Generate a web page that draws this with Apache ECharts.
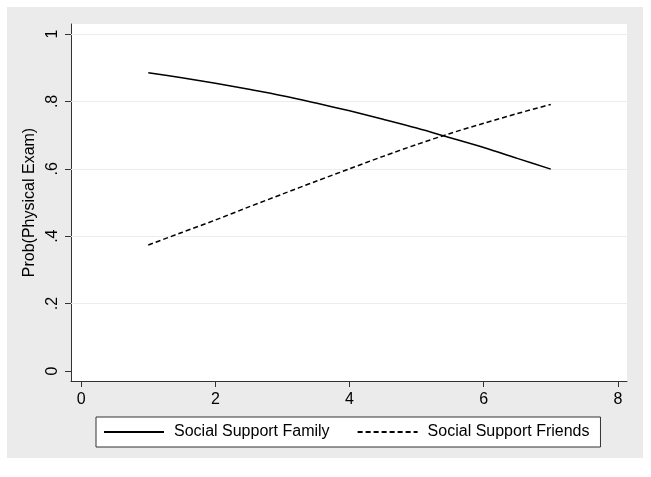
<!DOCTYPE html>
<html>
<head>
<meta charset="utf-8">
<script src="https://cdn.jsdelivr.net/npm/echarts@6/dist/echarts.min.js"></script>
<style>
  html, body { margin: 0; padding: 0; background: #ffffff; width: 651px; height: 477px; overflow: hidden; }
  #chart { position: absolute; left: 7px; top: 7px; width: 636px; height: 451px; }
</style>
</head>
<body>
<div id="chart"></div>
<script>
// Data
const xValues = [1, 1.5, 2, 2.5, 3, 3.5, 4, 4.5, 5, 5.5, 6, 6.5, 7];
const familyProb = [0.885, 0.870, 0.854, 0.836, 0.817, 0.795, 0.772, 0.747, 0.721, 0.692, 0.663, 0.631, 0.599];
const friendsProb = [0.374, 0.411, 0.448, 0.487, 0.525, 0.563, 0.600, 0.637, 0.672, 0.705, 0.735, 0.764, 0.791];
const seriesNames = ['Social Support Family', 'Social Support Friends'];
const xTicks = [0, 2, 4, 6, 8];
const yTicks = [0, 0.2, 0.4, 0.6, 0.8, 1];
const yGridTicks = [0.2, 0.4, 0.6, 0.8, 1];
const yTitle = 'Prob(Physical Exam)';

const fmt = v => {
  const r = Math.round(v * 10) / 10;
  return String(r).replace(/^0\./, '.');
};

const chart = echarts.init(document.getElementById('chart'), null, { renderer: 'canvas' });
const font = 'Liberation Sans, Arial, sans-serif';

chart.setOption({
  backgroundColor: '#ebebeb',
  animation: false,
  textStyle: { fontFamily: font },
  grid: {
    left: 64, top: 17, width: 556, height: 357,
    show: true, backgroundColor: '#ffffff', borderWidth: 0,
    containLabel: false
  },
  xAxis: {
    type: 'value',
    min: -0.152, max: 8.136,
    axisLine: { show: true, onZero: false, lineStyle: { color: '#333333', width: 1 } },
    axisTick: { show: true, length: 6, customValues: xTicks, lineStyle: { color: '#333333' } },
    axisLabel: { customValues: xTicks, color: '#000', fontSize: 16, margin: 11, fontFamily: font, formatter: v => String(v) },
    splitLine: { show: false }
  },
  yAxis: {
    type: 'value',
    min: -0.0297, max: 1.0297,
    name: yTitle,
    nameLocation: 'middle',
    nameGap: 25,
    nameRotate: 90,
    nameTextStyle: { color: '#000', fontSize: 16, fontFamily: font },
    axisLine: { show: true, onZero: false, lineStyle: { color: '#333333', width: 1 } },
    axisTick: { show: true, length: 6, customValues: yTicks, lineStyle: { color: '#333333' } },
    axisLabel: { customValues: yTicks, rotate: 90, color: '#000', fontSize: 16, margin: 10, fontFamily: font, formatter: fmt },
    splitLine: { show: false }
  },
  legend: {
    show: true,
    left: 89, top: 410,
    orient: 'horizontal',
    backgroundColor: '#ffffff',
    borderColor: '#333333',
    borderWidth: 1,
    borderRadius: 0,
    padding: [7, 11, 7, 7],
    itemWidth: 60,
    itemHeight: 16,
    itemGap: 27,
    itemStyle: { opacity: 0 },
    lineStyle: { opacity: 1 },
    textStyle: { color: '#000', fontSize: 16, fontFamily: font, padding: [0, 0, 0, 5] },
    data: seriesNames
  },
  series: [
    {
      name: seriesNames[0],
      type: 'line',
      data: xValues.map((x, i) => [x, familyProb[i]]),
      showSymbol: false, symbol: 'none',
      smooth: 0.3,
      lineStyle: { color: '#000000', width: 1.5, type: 'solid' },
      itemStyle: { color: '#000000' },
      markLine: {
        silent: true, symbol: 'none', label: { show: false },
        lineStyle: { color: '#ececec', width: 1.2, type: 'solid' },
        data: yGridTicks.map(v => ({ yAxis: v })),
        z: 1
      },
      z: 3
    },
    {
      name: seriesNames[1],
      type: 'line',
      data: xValues.map((x, i) => [x, friendsProb[i]]),
      showSymbol: false, symbol: 'none',
      smooth: 0.3,
      lineStyle: { color: '#000000', width: 1.5, type: [5, 3] },
      itemStyle: { color: '#000000' },
      z: 3
    }
  ]
});
</script>
</body>
</html>
